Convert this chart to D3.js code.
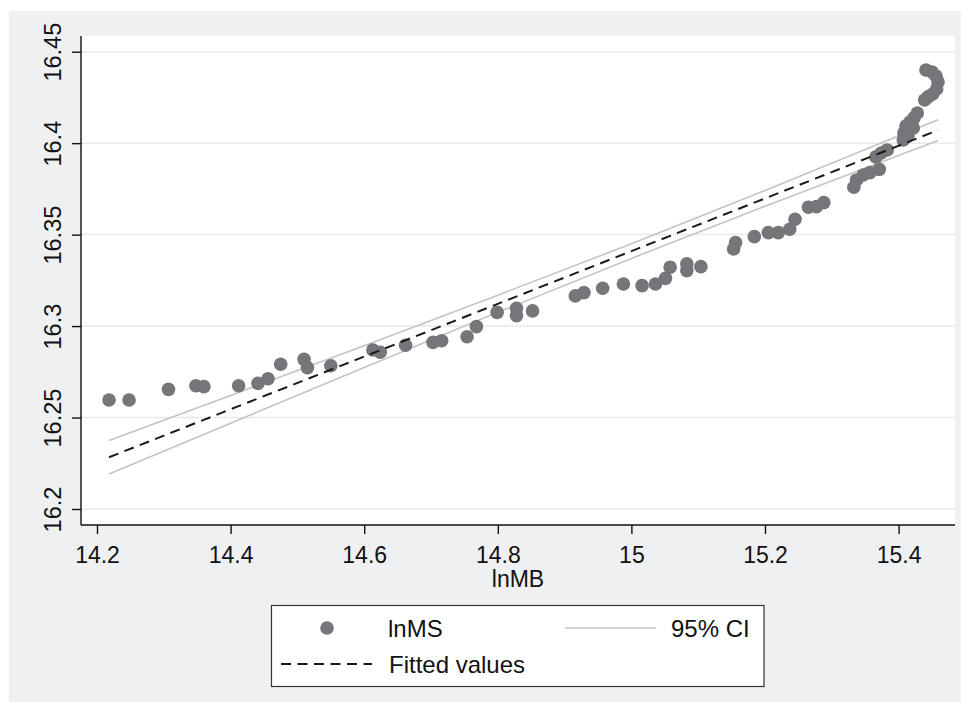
<!DOCTYPE html>
<html>
<head>
<meta charset="utf-8">
<script src="https://cdn.jsdelivr.net/npm/d3@7"></script>
<style>
  html, body { margin: 0; padding: 0; background: #ffffff; }
  svg { display: block; font-family: "Liberation Sans", Arial, sans-serif; }
</style>
</head>
<body>
<svg id="chart" width="970" height="713"></svg>
<script>
// ---- data ----
const lnMB = [14.218, 14.248, 14.307, 14.348, 14.360, 14.412, 14.441, 14.456, 14.475, 14.510,
  14.515, 14.550, 14.613, 14.624, 14.662, 14.703, 14.716, 14.754, 14.768, 14.799,
  14.828, 14.828, 14.852, 14.916, 14.929, 14.957, 14.988, 15.016, 15.036, 15.051,
  15.058, 15.083, 15.083, 15.104, 15.153, 15.156, 15.184, 15.205, 15.220, 15.237,
  15.245, 15.265, 15.277, 15.288, 15.333, 15.337, 15.347, 15.357, 15.371, 15.366,
  15.374, 15.383, 15.407, 15.408, 15.411, 15.417, 15.423, 15.428, 15.422, 15.414,
  15.441, 15.450, 15.456, 15.459, 15.457, 15.451, 15.444, 15.439];
const lnMS = [16.2596, 16.2596, 16.2654, 16.2674, 16.2669, 16.2674, 16.2687, 16.2712, 16.2791, 16.2818,
  16.2773, 16.2783, 16.2869, 16.2857, 16.2895, 16.2911, 16.2920, 16.2942, 16.2997, 16.3075,
  16.3097, 16.3057, 16.3083, 16.3165, 16.3183, 16.3207, 16.3230, 16.3221, 16.3230, 16.3261,
  16.3322, 16.3340, 16.3303, 16.3325, 16.3422, 16.3456, 16.3489, 16.3511, 16.3511, 16.3529,
  16.3584, 16.3650, 16.3653, 16.3675, 16.3759, 16.3799, 16.3826, 16.3839, 16.3857, 16.3925,
  16.3946, 16.3963, 16.4017, 16.4056, 16.4094, 16.4116, 16.4138, 16.4165, 16.4083, 16.4039,
  16.4400, 16.4389, 16.4367, 16.4335, 16.4296, 16.4269, 16.4253, 16.4236];

const fitX = [14.218, 15.459];
const fitY = [16.2283, 16.4071];

const ciX     = [14.218, 14.4, 14.6, 14.8, 15.0, 15.2, 15.459];
const ciUpper = [16.2375, 16.2621, 16.2893, 16.3169, 16.3450, 16.3741, 16.4128];
const ciLower = [16.2191, 16.2469, 16.2773, 16.3075, 16.3370, 16.3655, 16.4014];

const xTicks = [14.2, 14.4, 14.6, 14.8, 15, 15.2, 15.4];
const yTicks = [16.2, 16.25, 16.3, 16.35, 16.4, 16.45];
const xTitle = "lnMB";
const legendLabels = ["lnMS", "95% CI", "Fitted values"];

// ---- drawing ----
const svg = d3.select("#chart");
const W = 970, H = 713;

svg.append("rect").attr("x", 0).attr("y", 0).attr("width", W).attr("height", H).attr("fill", "#ffffff");
svg.append("rect").attr("x", 9).attr("y", 11).attr("width", 952).attr("height", 691).attr("fill", "#eef0f2");

const plot = { left: 81, top: 36, right: 955, bottom: 525 };
svg.append("rect").attr("x", plot.left).attr("y", plot.top)
  .attr("width", plot.right - plot.left).attr("height", plot.bottom - plot.top).attr("fill", "#ffffff");

const x = d3.scaleLinear().domain([14.2, 15.4]).range([97, 898.6]);
const y = d3.scaleLinear().domain([16.2, 16.45]).range([509, 51.7]);

// gridlines
svg.append("g").selectAll("line").data(yTicks).join("line")
  .attr("x1", plot.left).attr("x2", plot.right)
  .attr("y1", d => y(d)).attr("y2", d => y(d))
  .attr("stroke", "#e8e9ea").attr("stroke-width", 1.5);

// CI lines
const lineCI = (arr) => d3.line().x((d, i) => x(ciX[i])).y(d => y(d))(arr);
svg.append("path").attr("d", lineCI(ciUpper)).attr("fill", "none").attr("stroke", "#c4c4c4").attr("stroke-width", 1.6);
svg.append("path").attr("d", lineCI(ciLower)).attr("fill", "none").attr("stroke", "#c4c4c4").attr("stroke-width", 1.6);

// points
const pts = lnMB.map((v, i) => [v, lnMS[i]]);
svg.append("g").selectAll("circle").data(pts).join("circle")
  .attr("cx", d => x(d[0])).attr("cy", d => y(d[1])).attr("r", 6.8)
  .attr("fill", "#75757a");

// fitted line
svg.append("path")
  .attr("d", d3.line().x((d, i) => x(fitX[i])).y(d => y(d))(fitY))
  .attr("fill", "none").attr("stroke", "#1a1a1a").attr("stroke-width", 2)
  .attr("stroke-dasharray", "10,6.5");

// axes
const yAxis = svg.append("g").attr("transform", `translate(${plot.left},0)`)
  .call(d3.axisLeft(y).tickValues(yTicks).tickSize(9).tickFormat(d3.format("")));
yAxis.select(".domain").attr("d", `M0,${plot.top}V${plot.bottom}`).attr("stroke", "#111").attr("stroke-width", 1.4);
yAxis.selectAll(".tick line").attr("stroke", "#111").attr("stroke-width", 1.4);
yAxis.selectAll(".tick text")
  .attr("transform", "rotate(-90)")
  .attr("x", 0).attr("y", -20).attr("dy", null)
  .attr("text-anchor", "middle")
  .attr("font-size", 23.5).attr("fill", "#111")
  .style("font-family", "'Liberation Sans', Arial, sans-serif");

const xAxis = svg.append("g").attr("transform", `translate(0,${plot.bottom})`)
  .call(d3.axisBottom(x).tickValues(xTicks).tickSize(9).tickFormat(d3.format("")));
xAxis.select(".domain").attr("d", `M${plot.left},0H${plot.right}`).attr("stroke", "#111").attr("stroke-width", 1.4);
xAxis.selectAll(".tick line").attr("stroke", "#111").attr("stroke-width", 1.4);
xAxis.selectAll(".tick text")
  .attr("y", 38).attr("dy", null)
  .attr("font-size", 23).attr("fill", "#111")
  .style("font-family", "'Liberation Sans', Arial, sans-serif");

svg.append("text").attr("x", (plot.left + plot.right) / 2).attr("y", 587)
  .attr("text-anchor", "middle").attr("font-size", 23).attr("fill", "#111").text(xTitle);

// legend
const lg = svg.append("g");
lg.append("rect").attr("x", 271.5).attr("y", 605.5).attr("width", 492.5).attr("height", 81)
  .attr("fill", "#ffffff").attr("stroke", "#333").attr("stroke-width", 1.2);
lg.append("circle").attr("cx", 327).attr("cy", 628).attr("r", 6.8).attr("fill", "#75757a");
lg.append("text").attr("x", 388).attr("y", 637).attr("font-size", 24).attr("fill", "#111").text(legendLabels[0]);
lg.append("line").attr("x1", 565).attr("x2", 656).attr("y1", 628).attr("y2", 628)
  .attr("stroke", "#c4c4c4").attr("stroke-width", 1.6);
lg.append("text").attr("x", 671).attr("y", 637).attr("font-size", 24).attr("fill", "#111").text(legendLabels[1]);
lg.append("line").attr("x1", 281).attr("x2", 372).attr("y1", 664).attr("y2", 664)
  .attr("stroke", "#1a1a1a").attr("stroke-width", 2).attr("stroke-dasharray", "10,6.5");
lg.append("text").attr("x", 389).attr("y", 673).attr("font-size", 24).attr("fill", "#111").text(legendLabels[2]);
</script>
</body>
</html>
